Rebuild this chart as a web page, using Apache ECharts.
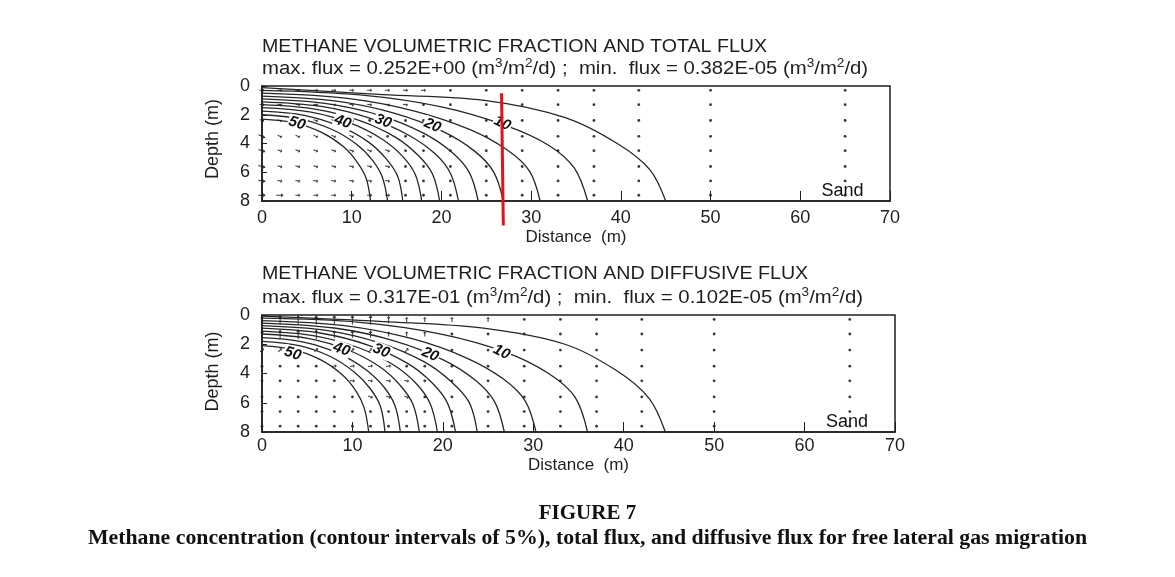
<!DOCTYPE html>
<html>
<head>
<meta charset="utf-8">
<script src="https://cdn.jsdelivr.net/npm/echarts@6/dist/echarts.min.js"></script>
<style>
  html, body { margin: 0; padding: 0; background: #ffffff; }
  #chart { width: 1175px; height: 577px; }
</style>
</head>
<body>
<div id="chart"></div>
<script>
// ---- data ---------------------------------------------------------------
const distanceTicks = [0, 10, 20, 30, 40, 50, 60, 70];
const depthTicks = [0, 2, 4, 6, 8];

// methane volumetric fraction contour levels (%), inner to outer
const contourLevels = [55, 50, 45, 40, 35, 30, 25, 20, 15, 10, 5];

// contour traces [distance m, depth m] – total flux panel
const totalContours = [
  [[0, 2.3], [3.6, 2.56], [6.7, 3.24], [9.1, 4.23], [10.6, 5.29], [11.6, 6.4], [12.1, 8]],
  [[0, 2.0], [4.2, 2.28], [7.7, 2.99], [10.5, 4.03], [12.3, 5.15], [13.4, 6.32], [14.0, 8]],
  [[0, 1.75], [4.7, 2.04], [8.6, 2.78], [11.8, 3.87], [13.8, 5.03], [15.1, 6.25], [15.7, 8]],
  [[0, 1.5], [5.3, 1.8], [9.8, 2.57], [13.4, 3.7], [15.7, 4.91], [17.1, 6.18], [17.8, 8]],
  [[0, 1.3], [5.9, 1.61], [10.9, 2.41], [14.9, 3.57], [17.4, 4.82], [19.0, 6.12], [19.8, 8]],
  [[0, 1.1], [6.6, 1.42], [12.0, 2.24], [16.4, 3.44], [19.3, 4.72], [21.0, 6.07], [21.9, 8]],
  [[0, 0.9], [7.2, 1.23], [13.3, 2.07], [18.1, 3.31], [21.2, 4.63], [23.1, 6.01], [24.1, 8]],
  [[0, 0.7], [8.1, 1.04], [14.8, 1.9], [20.2, 3.17], [23.7, 4.53], [25.8, 5.96], [26.9, 8]],
  [[0, 0.5], [9.3, 0.85], [17.0, 1.74], [23.2, 3.04], [27.3, 4.44], [29.8, 5.9], [31.0, 8]],
  [[0, 0.3], [10.9, 0.62], [20.0, 1.45], [27.2, 2.75], [31.9, 4.1], [34.8, 5.7], [36.3, 8]],
  [[0, 0.12], [13.5, 0.6], [24.8, 1.0], [33.8, 2.2], [39.6, 4.0], [43.2, 5.8], [45.0, 8]]
];

// contour traces [distance m, depth m] – diffusive flux panel
const diffusiveContours = [
  [[0, 2.1], [3.5, 2.37], [6.5, 3.07], [8.9, 4.1], [10.4, 5.2], [11.3, 6.35], [11.8, 8]],
  [[0, 1.8], [4.1, 2.09], [7.5, 2.82], [10.2, 3.9], [12.0, 5.06], [13.1, 6.26], [13.6, 8]],
  [[0, 1.55], [4.6, 1.85], [8.4, 2.61], [11.5, 3.74], [13.5, 4.94], [14.7, 6.19], [15.3, 8]],
  [[0, 1.3], [5.2, 1.61], [9.6, 2.41], [13.1, 3.57], [15.3, 4.82], [16.7, 6.12], [17.4, 8]],
  [[0, 1.1], [5.8, 1.42], [10.7, 2.24], [14.6, 3.44], [17.1, 4.72], [18.6, 6.07], [19.4, 8]],
  [[0, 0.9], [6.4, 1.23], [11.8, 2.07], [16.1, 3.31], [18.8, 4.63], [20.5, 6.01], [21.4, 8]],
  [[0, 0.72], [7.1, 1.05], [13.1, 1.92], [17.9, 3.19], [20.9, 4.54], [22.9, 5.96], [23.8, 8]],
  [[0, 0.55], [8.0, 0.89], [14.7, 1.78], [20.1, 3.08], [23.6, 4.46], [25.7, 5.91], [26.8, 8]],
  [[0, 0.38], [9.1, 0.73], [16.7, 1.64], [22.7, 2.96], [26.7, 4.38], [29.1, 5.87], [30.3, 8]],
  [[0, 0.22], [10.8, 0.5], [19.8, 1.3], [27.0, 2.55], [31.7, 4.0], [34.6, 5.6], [36.0, 8]],
  [[0, 0.08], [13.4, 0.45], [24.5, 0.9], [33.5, 2.0], [39.2, 3.8], [42.8, 5.7], [44.6, 8]]
];

// labelled contours and where their labels sit [distance, depth]
const labelledLevels = [50, 40, 30, 20, 10];
const totalLabelAt = [[3.9, 2.6], [9.0, 2.5], [13.5, 2.45], [19.0, 2.75], [26.8, 2.6]];
const diffusiveLabelAt = [[3.4, 2.65], [8.8, 2.35], [13.2, 2.45], [18.6, 2.7], [26.5, 2.55]];

// flux vector mesh
const meshX = [0, 2, 4, 6, 8, 10, 12, 14, 16, 18, 21, 25, 29, 33, 37, 42, 50, 65];
const meshDepth = [0.3, 1.3, 2.4, 3.5, 4.5, 5.6, 6.6, 7.6];

// relative flux magnitude per mesh node (rows = depth, cols = distance)
const totalFluxSize = [
  [2, 2, 2, 2, 2, 2, 2, 2, 2, 2, 1, 1, 1, 1, 1, 1, 1, 1],
  [2, 2, 2, 2, 2, 2, 2, 2, 2, 1, 1, 1, 1, 1, 1, 1, 1, 1],
  [2, 2, 2, 2, 2, 2, 1, 1, 1, 1, 1, 1, 1, 1, 1, 1, 1, 1],
  [3, 2, 2, 2, 2, 2, 2, 1, 1, 1, 1, 1, 1, 1, 1, 1, 1, 1],
  [3, 2, 2, 2, 2, 2, 2, 2, 1, 1, 1, 1, 1, 1, 1, 1, 1, 1],
  [3, 2, 2, 2, 2, 2, 2, 2, 1, 1, 1, 1, 1, 1, 1, 1, 1, 1],
  [3, 2, 2, 2, 2, 2, 2, 2, 1, 1, 1, 1, 1, 1, 1, 1, 1, 1],
  [3, 3, 2, 2, 2, 2, 2, 2, 1, 1, 1, 1, 1, 1, 1, 1, 1, 1]
];
// flux direction per depth row (degrees, 0 = toward +distance, 90 = upward)
const totalFluxDir = [0, -10, -20, -25, -20, -15, -10, 0];

const diffusiveFluxSize = [
  [3, 4, 4, 4, 4, 4, 4, 3, 2, 2, 2, 2, 1, 1, 1, 1, 1, 1],
  [3, 4, 4, 4, 3, 3, 3, 2, 2, 2, 1, 1, 1, 1, 1, 1, 1, 1],
  [2, 2, 2, 2, 2, 2, 2, 2, 2, 1, 1, 1, 1, 1, 1, 1, 1, 1],
  [1, 1, 1, 1, 2, 2, 2, 2, 1, 1, 1, 1, 1, 1, 1, 1, 1, 1],
  [1, 1, 1, 1, 1, 2, 2, 2, 2, 1, 1, 1, 1, 1, 1, 1, 1, 1],
  [1, 1, 1, 1, 1, 1, 2, 2, 2, 1, 1, 1, 1, 1, 1, 1, 1, 1],
  [1, 1, 1, 1, 1, 1, 1, 1, 1, 1, 1, 1, 1, 1, 1, 1, 1, 1],
  [1, 1, 1, 1, 1, 1, 1, 1, 1, 1, 1, 1, 1, 1, 1, 1, 1, 1]
];
const diffusiveFluxDir = [90, 90, 45, 10, -10, -20, -20, -10];

// marker line across the total flux panel [distance, depth]
const markerLine = [[26.7, 0.5], [26.9, 9.7]];

// flux extremes (m3/m2/d)
const totalFluxMax = '0.252E+00', totalFluxMin = '0.382E-05';
const diffusiveFluxMax = '0.317E-01', diffusiveFluxMin = '0.102E-05';

// ---- drawing ------------------------------------------------------------
const INK = '#1e1e1e';
const SANS = '"Liberation Sans", Arial, sans-serif';
const SERIF = '"Liberation Serif", "Times New Roman", serif';
const arrowPath = 'path://M0,2.2L6.5,2.2L6.5,0L10,3L6.5,6L6.5,3.8L0,3.8Z';
const arrowLen = { 2: 5, 3: 7.5, 4: 10 };
const totalLabelRot = [-18, -20, -22, -24, -26];
const diffusiveLabelRot = [-18, -20, -22, -24, -26];

function fluxNodes(sizes, dirs) {
  const out = [];
  meshDepth.forEach((d, i) => {
    meshX.forEach((x, j) => out.push([x, d, sizes[i][j], dirs[i]]));
  });
  return out;
}

function fluxTitle(max, min) {
  return 'max. flux = ' + max + ' (m{s|3}/m{s|2}/d) ;  min.  flux = ' + min + ' (m{s|3}/m{s|2}/d)';
}

const grids = [
  { left: 262, top: 86, width: 628, height: 115 },
  { left: 262, top: 315, width: 633, height: 117 }
];

function xAxisFor(idx, labelMargin, nameGap) {
  return {
    type: 'value', gridIndex: idx, min: 0, max: 70, interval: 10, position: 'bottom',
    name: 'Distance  (m)', nameLocation: 'middle', nameGap: nameGap,
    nameTextStyle: { color: INK, fontFamily: SANS, fontSize: 17 },
    axisLine: { show: true, onZero: false, lineStyle: { color: INK, width: 1.5 } },
    axisTick: { show: true, inside: true, length: 10, lineStyle: { color: INK, width: 1 } },
    axisLabel: { color: INK, fontFamily: SANS, fontSize: 18, margin: labelMargin,
                 formatter: v => distanceTicks.includes(v) ? String(v) : '' },
    splitLine: { show: false }
  };
}
function yAxisFor(idx, namePad) {
  return {
    type: 'value', gridIndex: idx, min: 0, max: 8, interval: 2, inverse: true, position: 'left',
    name: 'Depth (m)', nameLocation: 'middle', nameGap: 40, nameRotate: 90,
    nameTextStyle: { color: INK, fontFamily: SANS, fontSize: 18, padding: namePad },
    axisLine: { show: true, onZero: false, lineStyle: { color: INK, width: 1.5 } },
    axisTick: { show: true, inside: true, length: 5, lineStyle: { color: INK } },
    axisLabel: { color: INK, fontFamily: SANS, fontSize: 18, margin: 12,
                 formatter: v => depthTicks.includes(v) ? String(v) : '' },
    splitLine: { show: false }
  };
}

function contourSeries(idx, traces) {
  return traces.map((pts, k) => ({
    type: 'line', name: contourLevels[k] + '%', xAxisIndex: idx, yAxisIndex: idx,
    data: pts, smooth: 0.35, symbol: 'none', silent: true,
    lineStyle: { color: '#262626', width: 1.3 }, z: 3
  }));
}

function labelSeries(idx, at, rots) {
  return {
    type: 'scatter', xAxisIndex: idx, yAxisIndex: idx, symbolSize: 0, silent: true, z: 5,
    itemStyle: { opacity: 1 },
    data: labelledLevels.map((lv, k) => ({
      value: [at[k][0], at[k][1]],
      label: {
        show: true, position: 'inside', formatter: String(lv), rotate: rots[k], opacity: 1,
        color: '#111111', fontFamily: SANS, fontSize: 15, fontStyle: 'italic', fontWeight: 'bold',
        backgroundColor: '#ffffff', padding: [0, 1], textBorderWidth: 0
      }
    }))
  };
}

function fluxSeries(idx, sizes, dirs) {
  return {
    type: 'scatter', xAxisIndex: idx, yAxisIndex: idx, silent: true, z: 4,
    data: fluxNodes(sizes, dirs),
    symbol: v => v[2] <= 1 ? 'circle' : arrowPath,
    symbolSize: v => v[2] <= 1 ? 2.8 : [arrowLen[v[2]], 3.8],
    symbolRotate: v => v[2] <= 1 ? 0 : v[3],
    symbolKeepAspect: false,
    itemStyle: { color: '#222222', opacity: 0.9 }
  };
}

function sandSeries(idx) {
  return {
    type: 'scatter', xAxisIndex: idx, yAxisIndex: idx, symbolSize: 0, silent: true, z: 5,
    itemStyle: { opacity: 1 },
    data: [[64.7, 7.3]],
    label: { show: true, position: 'inside', formatter: 'Sand', color: '#111111', opacity: 1,
             fontFamily: SANS, fontSize: 18, textBorderWidth: 0 }
  };
}

// panel headings, widened slightly to the proportions of the printed figure
function heading(text, y, size, stretch) {
  return {
    type: 'text', x: 262, y: y, scaleX: stretch, silent: true,
    style: {
      text: text, fill: INK, fontFamily: SANS, fontSize: size,
      align: 'left', verticalAlign: 'middle', lineHeight: 22,
      rich: { s: { fontSize: 12, fontFamily: SANS, fill: INK, verticalAlign: 'top', lineHeight: 22 } }
    }
  };
}

const option = {
  backgroundColor: '#ffffff',
  animation: false,
  graphic: [
    heading('METHANE VOLUMETRIC FRACTION AND TOTAL FLUX', 47, 18, 1.09),
    heading(fluxTitle(totalFluxMax, totalFluxMin), 69, 18, 1.13),
    heading('METHANE VOLUMETRIC FRACTION AND DIFFUSIVE FLUX', 274, 18, 1.09),
    heading(fluxTitle(diffusiveFluxMax, diffusiveFluxMin), 298, 18, 1.13)
  ],
  title: [
    { text: 'FIGURE 7', left: 'center', top: 503, padding: 0,
      textStyle: { color: '#111', fontFamily: SERIF, fontSize: 21, fontWeight: 'bold' } },
    { text: 'Methane concentration (contour intervals of 5%), total flux, and diffusive flux for free lateral gas migration',
      left: 'center', top: 527, padding: 0,
      textStyle: { color: '#111', fontFamily: SERIF, fontSize: 21.8, fontWeight: 'bold' } }
  ],
  grid: grids.map(g => Object.assign({ show: true, borderColor: INK, borderWidth: 1.5,
                                        backgroundColor: 'transparent' }, g)),
  xAxis: [xAxisFor(0, 8, 28), xAxisFor(1, 5, 25)],
  yAxis: [yAxisFor(0, [0, 0, 0, 9]), yAxisFor(1, [0, 0, 0, 4])],
  series: [
    ...contourSeries(0, totalContours),
    ...contourSeries(1, diffusiveContours),
    fluxSeries(0, totalFluxSize, totalFluxDir),
    fluxSeries(1, diffusiveFluxSize, diffusiveFluxDir),
    labelSeries(0, totalLabelAt, totalLabelRot),
    labelSeries(1, diffusiveLabelAt, diffusiveLabelRot),
    sandSeries(0),
    sandSeries(1),
    {
      type: 'line', xAxisIndex: 0, yAxisIndex: 0, data: markerLine, symbol: 'none',
      clip: false, silent: true, z: 10,
      lineStyle: { color: '#e0121c', width: 3 }
    }
  ]
};

const chart = echarts.init(document.getElementById('chart'), null, { renderer: 'canvas' });
chart.setOption(option);
</script>
</body>
</html>
